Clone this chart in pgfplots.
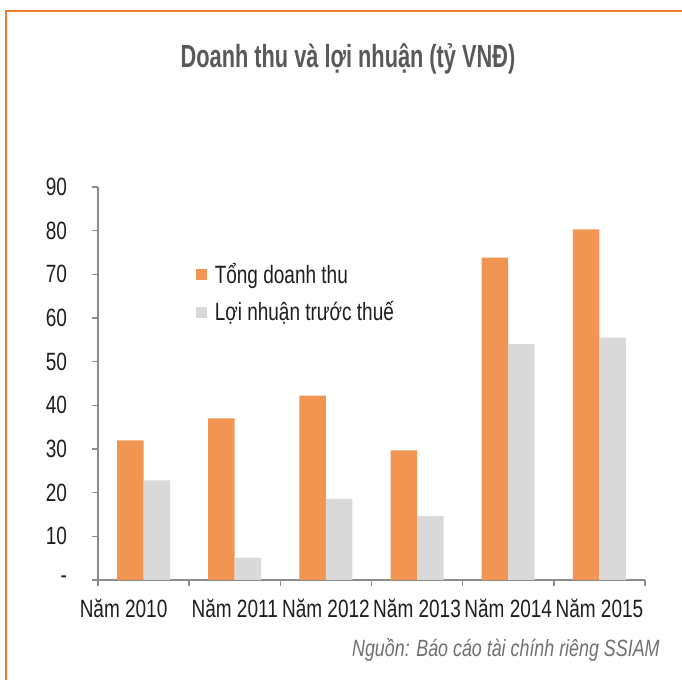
\documentclass[border=0pt]{standalone}
\usepackage{fontspec}
\setmainfont{Liberation Sans}
\newfontfamily\narrow[FakeStretch=0.76]{Liberation Sans}
\newfontfamily\titlefont[FakeStretch=0.68]{Liberation Sans}
\usepackage{pgfplots}
\pgfplotsset{compat=1.18}

\definecolor{barorange}{RGB}{241,150,82}
\definecolor{bargray}{RGB}{217,217,217}
\definecolor{axgray}{RGB}{140,140,140}
\definecolor{framecol}{RGB}{237,125,49}
\definecolor{titlegray}{RGB}{89,89,89}
\definecolor{srcgray}{RGB}{112,112,112}
\definecolor{labcol}{RGB}{30,30,30}

\begin{document}
\begin{tikzpicture}
\useasboundingbox (0,0) rectangle (341pt,340pt);
% orange frame, top and left
\draw[framecol, line width=1pt] (3pt,0) -- (3pt,334.25pt) -- (341pt,334.25pt);

\begin{axis}[
  at={(49pt,50pt)}, anchor=south west,
  scale only axis, width=273.5pt, height=196.5pt,
  ymin=0, ymax=90, xmin=-0.5, xmax=5.5,
  ybar=0pt, bar width=13.25pt,
  axis x line*=bottom, axis y line*=left,
  axis line style={axgray, line width=0.75pt},
  every tick/.style={axgray, line width=0.75pt},
  tick align=outside, major tick length=3pt,
  ytick={0,10,20,30,40,50,60,70,80,90},
  yticklabels={-,10,20,30,40,50,60,70,80,90},
  xtick={-0.5,0.5,1.5,2.5,3.5,4.5,5.5},
  x tick label as interval,
  xticklabels={Năm 2010\rule{20pt}{0pt},Năm 2011,Năm 2012,Năm 2013,Năm 2014,Năm 2015},
  tick label style={font=\narrow\fontsize{12.5}{14}\selectfont, text=labcol},
  yticklabel style={xshift=-9pt},
  xticklabel style={yshift=-3pt},
  legend style={at={(0.178,0.818)}, anchor=north west, draw=none, fill=none,
    font=\narrow\fontsize{12.5}{14}\selectfont, text=labcol, row sep=3.5pt,
    inner sep=0pt, nodes={inner xsep=4pt}},
  legend cell align=left,
  legend image code/.code={\fill[#1] (0pt,-2.75pt) rectangle (5.5pt,2.75pt);},
]
\addplot[fill=barorange, draw=none] coordinates {(0,32.0)(1,37.0)(2,42.2)(3,29.7)(4,73.8)(5,80.3)};
\addlegendentry{Tổng doanh thu}
\addplot[fill=bargray, draw=none] coordinates {(0,22.8)(1,5.1)(2,18.5)(3,14.6)(4,54.0)(5,55.5)};
\addlegendentry{Lợi nhuận trước thuế}
\end{axis}

\node[anchor=base, font=\titlefont\bfseries\fontsize{16}{18}\selectfont, text=titlegray]
  at (174pt,306pt) {Doanh thu và lợi nhuận (tỷ VNĐ)};
\node[anchor=base east, inner sep=0pt, font=\narrow\itshape\fontsize{11.75}{13}\selectfont, text=srcgray]
  at (330pt,11.5pt) {Nguồn: Báo cáo tài chính riêng SSIAM};
\end{tikzpicture}
\end{document}
